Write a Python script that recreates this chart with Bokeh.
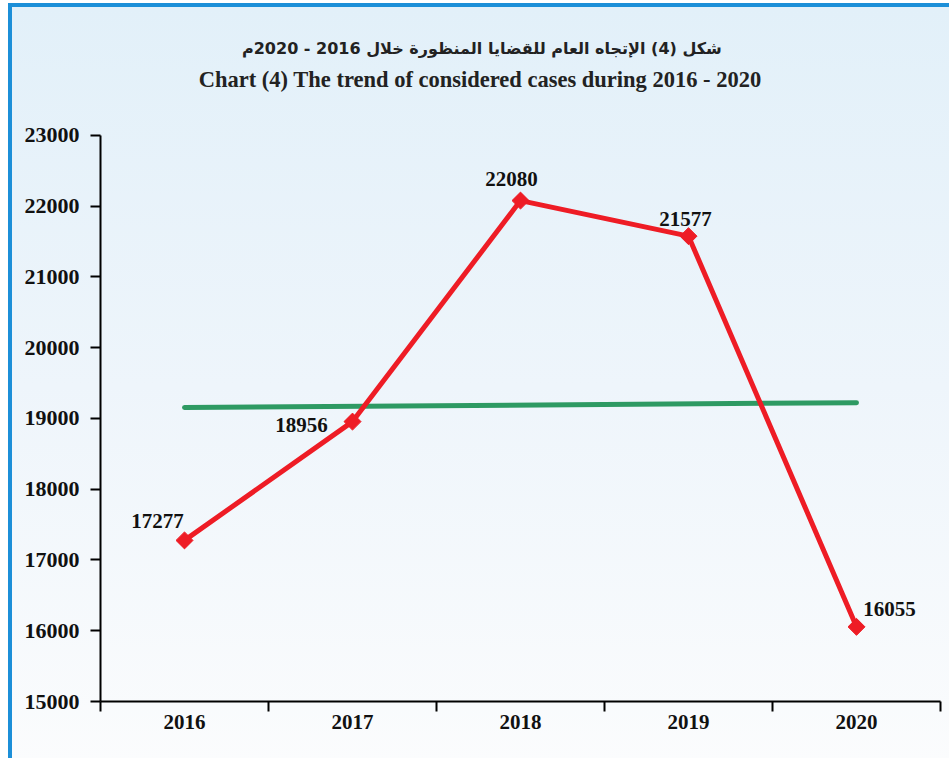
import math
from bokeh.plotting import figure
from bokeh.models import (ColumnDataSource, LabelSet, Label, FixedTicker, Range1d)
from bokeh.embed import file_html
from bokeh.resources import INLINE

# ---- data ----
years = ["2016", "2017", "2018", "2019", "2020"]
cases = [17277, 18956, 22080, 21577, 16055]
trend_years = ["2016", "2020"]
trend_values = [19154, 19224]
y_ticks = [15000, 16000, 17000, 18000, 19000, 20000, 21000, 22000, 23000]
title_ar = "شكل (4) الإتجاه العام للقضايا المنظورة خلال 2016 - 2020م"
title_en = "Chart (4) The trend of considered cases during 2016 - 2020"

# label offsets (style)
dx = [-27, -51, -9, -3, 33]
dy = [19, -3, 22, 17, 18]

xpos = {y: i + 0.5 for i, y in enumerate(years)}

src = ColumnDataSource(dict(
    x=[xpos[y] for y in years], y=cases,
    lbl=[str(v) for v in cases], dx=dx, dy=dy))
tsrc = ColumnDataSource(dict(x=[xpos[y] for y in trend_years], y=trend_values))

W, H = 949, 758
# frame reaches the top of the canvas; the axis line is bounded to 15000..23000
y_top = 24908
p = figure(width=W, height=H, output_backend="svg", toolbar_location=None,
           x_range=Range1d(0, len(years)), y_range=Range1d(y_ticks[0], y_top),
           min_border_left=100, min_border_right=9, min_border_top=0,
           min_border_bottom=57)

blue = "#1c8fd8"
p.styles = {"background": (
    f"linear-gradient({blue},{blue}) 8px 3px / 4px 100% no-repeat, "
    f"linear-gradient({blue},{blue}) 8px 3px / 100% 4px no-repeat, "
    "linear-gradient(to bottom, #e2f0f9 0%, #eef5fb 50%, #fbfcfd 100%) 12px 7px / 100% 100% no-repeat, "
    "#ffffff")}
p.border_fill_alpha = 0
p.background_fill_alpha = 0
p.outline_line_color = None
p.xgrid.visible = False
p.ygrid.visible = False

p.line("x", "y", source=tsrc, line_color="#2e9a63", line_width=5, line_cap="round")
p.line("x", "y", source=src, line_color="#ee1c25", line_width=5)
p.scatter("x", "y", source=src, marker="square", angle=math.pi / 4, size=12,
          fill_color="#ee1c25", line_color="#ee1c25")

labels = LabelSet(x="x", y="y", text="lbl", x_offset="dx", y_offset="dy", source=src,
                  text_align="center", text_baseline="middle",
                  text_font="Liberation Serif", text_font_style="bold",
                  text_font_size="21px", text_color="#111111")
p.add_layout(labels)

# x axis: labels at category centres, ticks at boundaries
xa = p.xaxis[0]
xa.ticker = FixedTicker(ticks=[xpos[y] for y in years],
                        minor_ticks=list(range(len(years) + 1)))
xa.major_label_overrides = {xpos[y]: y for y in years}
xa.major_tick_out = 0
xa.major_tick_in = 0
xa.minor_tick_out = 10
xa.minor_tick_in = 0
xa.minor_tick_line_color = "black"
xa.minor_tick_line_width = 2
xa.axis_line_width = 2
xa.axis_line_color = "black"
xa.major_label_standoff = 3
xa.major_label_text_font = "Liberation Serif"
xa.major_label_text_font_style = "bold"
xa.major_label_text_font_size = "21px"
xa.major_label_text_color = "#111111"

ya = p.yaxis[0]
ya.ticker = FixedTicker(ticks=y_ticks, minor_ticks=[])
ya.bounds = (y_ticks[0], y_ticks[-1])
ya.major_tick_out = 10
ya.major_tick_in = 0
ya.major_tick_line_width = 2
ya.axis_line_width = 2
ya.major_label_standoff = 11
ya.major_label_text_font = "Liberation Serif"
ya.major_label_text_font_style = "bold"
ya.major_label_text_font_size = "22px"
ya.major_label_text_color = "#111111"
ya.minor_tick_line_color = None

# two-line title above the plotted area
p.add_layout(Label(x=2.27, y=24225, text=title_ar,
                   text_align="center", text_baseline="middle",
                   text_font="DejaVu Sans", text_font_style="bold",
                   text_font_size="16px", text_color="#222222"))
p.add_layout(Label(x=2.26, y=23785, text=title_en,
                   text_align="center", text_baseline="middle",
                   text_font="Liberation Serif", text_font_style="bold",
                   text_font_size="22.5px", text_color="#222222"))

open("out.html", "w").write(file_html(p, INLINE))
